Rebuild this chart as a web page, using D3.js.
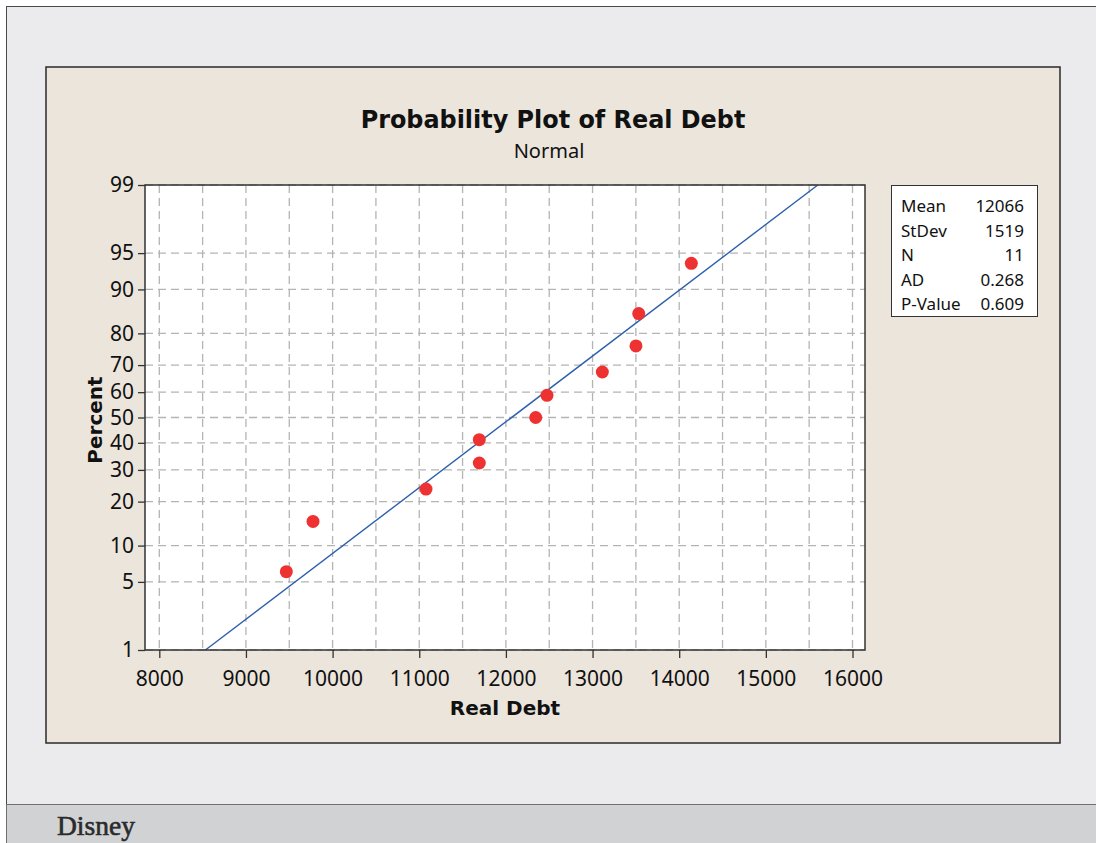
<!DOCTYPE html>
<html>
<head>
<meta charset="utf-8">
<script src="https://cdn.jsdelivr.net/npm/d3@7"></script>
<style>
  html, body { margin: 0; padding: 0; background: #ffffff; }
  svg { display: block; }
  text { font-family: "Noto Sans", "DejaVu Sans", sans-serif; fill: #111; }
  .bold { font-family: "DejaVu Sans", sans-serif; font-weight: bold; }
</style>
</head>
<body>
<div id="chart"></div>
<script>
var realDebt = [9466, 9774, 11078, 11693, 11693, 12344, 12474, 13113, 13501, 13533, 14140];
var xTicks = [8000, 9000, 10000, 11000, 12000, 13000, 14000, 15000, 16000];
var xGrid = [8000, 8500, 9000, 9500, 10000, 10500, 11000, 11500, 12000, 12500, 13000, 13500, 14000, 14500, 15000, 15500, 16000];
var yTicks = [1, 5, 10, 20, 30, 40, 50, 60, 70, 80, 90, 95, 99];
var statLabels = ["Mean", "StDev", "N", "AD", "P-Value"];
var statValues = ["12066", "1519", "11", "0.268", "0.609"];
var fitMean = 12066, fitSd = 1519;

// inverse normal cdf (Acklam)
function probit(p) {
  var a = [-3.969683028665376e+01, 2.209460984245205e+02, -2.759285104469687e+02, 1.383577518672690e+02, -3.066479806614716e+01, 2.506628277459239e+00];
  var b = [-5.447609879822406e+01, 1.615858368580409e+02, -1.556989798598866e+02, 6.680131188771972e+01, -1.328068155288572e+01];
  var c = [-7.784894002430293e-03, -3.223964580411365e-01, -2.400758277161838e+00, -2.549732539343734e+00, 4.374664141464968e+00, 2.938163982698783e+00];
  var d = [7.784695709041462e-03, 3.224671290700398e-01, 2.445134137142996e+00, 3.754408661907416e+00];
  var pl = 0.02425, q, r;
  if (p < pl) {
    q = Math.sqrt(-2 * Math.log(p));
    return (((((c[0]*q+c[1])*q+c[2])*q+c[3])*q+c[4])*q+c[5]) / ((((d[0]*q+d[1])*q+d[2])*q+d[3])*q+1);
  } else if (p <= 1 - pl) {
    q = p - 0.5; r = q * q;
    return (((((a[0]*r+a[1])*r+a[2])*r+a[3])*r+a[4])*r+a[5])*q / (((((b[0]*r+b[1])*r+b[2])*r+b[3])*r+b[4])*r+1);
  }
  q = Math.sqrt(-2 * Math.log(1 - p));
  return -(((((c[0]*q+c[1])*q+c[2])*q+c[3])*q+c[4])*q+c[5]) / ((((d[0]*q+d[1])*q+d[2])*q+d[3])*q+1);
}

var W = 1096, H = 843;
var plot = {left: 145, top: 185, right: 865, bottom: 650};

var svg = d3.select("#chart").append("svg")
  .attr("width", W)
  .attr("height", H);

// outer page frame
svg.append("rect")
  .attr("x", 6.5).attr("y", 6.5)
  .attr("width", W + 10).attr("height", H + 10)
  .attr("fill", "#ebebed")
  .attr("stroke", "#4a4a4a");

// caption strip
svg.append("rect")
  .attr("x", 6.5).attr("y", 804.5)
  .attr("width", W + 10).attr("height", 60)
  .attr("fill", "#d1d2d4")
  .attr("stroke", "#707070");

svg.append("text")
  .attr("x", 57).attr("y", 835)
  .style("font-family", "'Liberation Serif', 'DejaVu Serif', serif")
  .style("font-size", "27.5px")
  .style("fill", "#2b2b2b")
  .style("stroke", "#2b2b2b")
  .style("stroke-width", 0.6)
  .text("Disney");

// graph panel
svg.append("rect")
  .attr("x", 46).attr("y", 67)
  .attr("width", 1014).attr("height", 676)
  .attr("fill", "#ebe5dc")
  .attr("stroke", "#2a2a2a")
  .attr("stroke-width", 1.5);

// scales
var xScale = d3.scaleLinear().domain([8000, 16000]).range([159.3, 852.5]);
var zScale = d3.scaleLinear().domain([probit(0.01), probit(0.99)]).range([plot.bottom, plot.top]);
var yMap = function(pct) { return zScale(probit(pct / 100)); };

// data area
svg.append("rect")
  .attr("x", plot.left).attr("y", plot.top)
  .attr("width", plot.right - plot.left).attr("height", plot.bottom - plot.top)
  .attr("fill", "#ffffff");

// grid
var grid = svg.append("g")
  .attr("stroke", "#b4b4b4")
  .attr("stroke-width", 1.3)
  .attr("stroke-dasharray", "8,5");

grid.selectAll(".vg")
  .data(xGrid)
  .enter().append("line")
  .attr("class", "vg")
  .attr("x1", xScale).attr("x2", xScale)
  .attr("y1", plot.top).attr("y2", plot.bottom);

grid.selectAll(".hg")
  .data(yTicks)
  .enter().append("line")
  .attr("class", "hg")
  .attr("x1", plot.left).attr("x2", plot.right)
  .attr("y1", yMap).attr("y2", yMap);

// fitted line from legend mean and stdev
var fitPts = [1, 99].map(function(p) { return [fitMean + probit(p / 100) * fitSd, p]; });
svg.append("line")
  .attr("x1", xScale(fitPts[0][0])).attr("y1", yMap(fitPts[0][1]))
  .attr("x2", xScale(fitPts[1][0])).attr("y2", yMap(fitPts[1][1]))
  .attr("stroke", "#2d5fad")
  .attr("stroke-width", 1.4);

// points, median rank plotting positions
var n = realDebt.length;
svg.selectAll(".dot")
  .data(realDebt)
  .enter().append("circle")
  .attr("class", "dot")
  .attr("r", 6.5)
  .attr("cx", function(d) { return xScale(d); })
  .attr("cy", function(d, i) { return yMap((i + 1 - 0.3) / (n + 0.4) * 100); })
  .attr("fill", "#ee3232");

// plot border
svg.append("rect")
  .attr("x", plot.left).attr("y", plot.top)
  .attr("width", plot.right - plot.left).attr("height", plot.bottom - plot.top)
  .attr("fill", "none")
  .attr("stroke", "#333")
  .attr("stroke-width", 1.5);

// axes
var xAxis = svg.append("g")
  .attr("class", "axis axis-x")
  .attr("transform", "translate(0," + plot.bottom + ")")
  .call(d3.axisBottom(xScale).tickValues(xTicks).tickSize(8).tickPadding(13).tickFormat(d3.format("d")));
xAxis.select(".domain").remove();
xAxis.selectAll("line").attr("stroke", "#333").attr("stroke-width", 1.3);
xAxis.selectAll("text").style("font-size", "21px").style("fill", "#111")
  .style("font-family", "'Noto Sans', sans-serif");

var yAxis = svg.append("g")
  .attr("class", "axis axis-y")
  .attr("transform", "translate(" + plot.left + ",0)")
  .call(d3.axisLeft(zScale).tickValues(yTicks.map(function(p) { return probit(p / 100); }))
    .tickSize(7).tickPadding(4)
    .tickFormat(function(z, i) { return yTicks[i]; }));
yAxis.select(".domain").remove();
yAxis.selectAll("line").attr("stroke", "#333").attr("stroke-width", 1.3);
yAxis.selectAll("text").style("font-size", "21px").style("fill", "#111")
  .style("font-family", "'Noto Sans', sans-serif");

// titles
svg.append("text")
  .attr("class", "bold")
  .attr("x", 553).attr("y", 128)
  .attr("text-anchor", "middle")
  .style("font-size", "23.9px")
  .text("Probability Plot of Real Debt");

svg.append("text")
  .attr("x", 549).attr("y", 158)
  .attr("text-anchor", "middle")
  .style("font-size", "20px")
  .text("Normal");

svg.append("text")
  .attr("class", "bold")
  .attr("x", 505).attr("y", 715)
  .attr("text-anchor", "middle")
  .style("font-size", "20px")
  .text("Real Debt");

svg.append("text")
  .attr("class", "bold")
  .attr("transform", "translate(102,420) rotate(-90)")
  .attr("text-anchor", "middle")
  .style("font-size", "20px")
  .text("Percent");

// stats box
var box = svg.append("g").attr("transform", "translate(891,185)");
box.append("rect")
  .attr("x", 0.5).attr("y", 0.5)
  .attr("width", 146).attr("height", 131)
  .attr("fill", "#ffffff")
  .attr("stroke", "#333");

box.selectAll(".lab")
  .data(statLabels)
  .enter().append("text")
  .attr("class", "lab")
  .attr("x", 10)
  .attr("y", function(d, i) { return 27 + i * 24.6; })
  .style("font-size", "17px")
  .text(function(d) { return d; });

box.selectAll(".val")
  .data(statValues)
  .enter().append("text")
  .attr("class", "val")
  .attr("x", 133)
  .attr("y", function(d, i) { return 27 + i * 24.6; })
  .attr("text-anchor", "end")
  .style("font-size", "17px")
  .text(function(d) { return d; });
</script>
</body>
</html>
